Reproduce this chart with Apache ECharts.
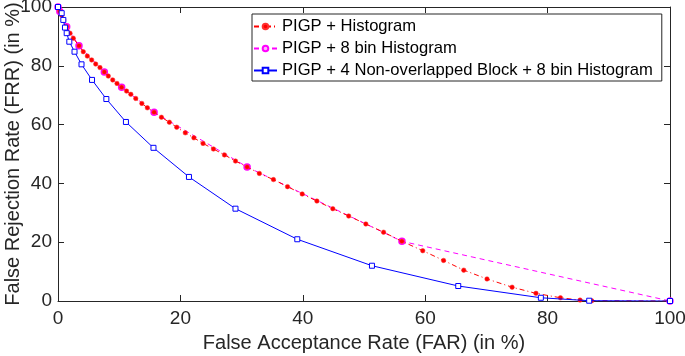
<!DOCTYPE html>
<html>
<head>
<meta charset="utf-8">
<script src="https://cdn.jsdelivr.net/npm/echarts@6/dist/echarts.min.js"></script>
<style>
    html, body { margin: 0; padding: 0; background: #fff; }
    #chart { width: 685px; height: 356px; }
</style>
</head>
<body>
<div id="chart"></div>
<script>
    // PIGP + Histogram
    var histFar = [0, 0.05, 0.3, 0.6, 0.93, 1.42, 1.96, 2.5, 3.43, 4.13, 4.79, 5.5, 6.16, 6.86, 7.57, 8.22, 8.94, 9.64, 10.4, 11.2, 11.9, 12.7, 13.7, 14.6, 15.7, 16.9, 18.2, 19.4, 20.8, 22.2, 23.7, 25.4, 27.2, 29.0, 30.9, 32.9, 35.2, 37.5, 39.9, 42.3, 44.9, 47.5, 50.3, 53.2, 56.2, 59.6, 63.0, 66.3, 70.1, 74.2, 78.1, 82.1, 85.3, 87.2, 100];
    var histFrr = [100, 99.6, 98.5, 97.2, 95.6, 93.3, 91.1, 89.4, 86.8, 84.8, 83.3, 82.0, 80.6, 79.4, 77.9, 76.5, 75.2, 74.0, 72.7, 71.4, 70.3, 68.9, 67.2, 65.7, 64.2, 62.5, 60.8, 59.1, 57.2, 55.5, 53.6, 51.7, 49.7, 47.6, 45.6, 43.4, 41.3, 38.9, 36.4, 34.0, 31.4, 28.9, 26.2, 23.4, 20.3, 17.1, 13.8, 10.5, 7.5, 4.7, 2.6, 1.1, 0.3, 0.1, 0];

    // PIGP + 8 bin Histogram
    var bin8Far = [0, 0.3, 1.42, 3.43, 7.57, 10.4, 15.7, 30.9, 56.2, 100];
    var bin8Frr = [100, 98.5, 93.3, 86.8, 77.9, 72.7, 64.2, 45.6, 20.3, 0];

    // PIGP + 4 Non-overlapped Block + 8 bin Histogram
    var blockFar = [0, 0.6, 0.87, 1.14, 1.42, 1.85, 2.7, 3.84, 5.56, 7.9, 11.1, 15.6, 21.4, 29.0, 39.1, 51.3, 65.4, 78.9, 86.8, 100];
    var blockFrr = [100, 97.9, 95.6, 93.0, 91.1, 88.2, 84.8, 80.5, 75.2, 68.7, 60.9, 52.1, 42.2, 31.4, 21.0, 12.0, 5.1, 1.1, 0.1, 0];

    var xTicks = [0, 20, 40, 60, 80, 100];
    var yTicks = [0, 20, 40, 60, 80, 100];

    function pairs (xs, ys) {
        return xs.map(function (x, i) { return [x, ys[i]]; });
    }

    var axisColor = '#262626';
    var font = '"Liberation Sans", Arial, sans-serif';

    var option = {
        animation: false,
        backgroundColor: '#fff',
        textStyle: { fontFamily: font },
        grid: { left: 58, right: 15, top: 7, bottom: 55, containLabel: false, outerBoundsMode: 'none' },
        legend: {
            orient: 'vertical',
            left: 252,
            top: 14,
            padding: [4, 9, 2, 1],
            itemGap: 5,
            itemWidth: 23,
            itemHeight: 7,
            backgroundColor: '#fff',
            borderColor: axisColor,
            borderWidth: 1,
            borderRadius: 0,
            textStyle: { fontSize: 16.6, color: '#000', fontFamily: font, lineHeight: 17 },
            data: ['PIGP + Histogram', 'PIGP + 8 bin Histogram', 'PIGP + 4 Non-overlapped Block + 8 bin Histogram']
        },
        xAxis: [
            {
                type: 'value',
                min: 0,
                max: 100,
                interval: 20,
                name: 'False Acceptance Rate (FAR) (in %)',
                nameLocation: 'middle',
                nameGap: 32,
                nameMoveOverlap: false,
                nameTextStyle: { fontSize: 20, color: axisColor, fontFamily: font },
                axisLine: { lineStyle: { color: axisColor, width: 1 } },
                axisTick: { inside: true, length: 6, lineStyle: { color: axisColor } },
                axisLabel: { fontSize: 19, color: axisColor, margin: 8, fontFamily: font,
                    formatter: function (v) { return xTicks.indexOf(v) >= 0 ? String(v) : ''; } },
                splitLine: { show: false }
            },
            {
                type: 'value',
                position: 'top',
                min: 0,
                max: 100,
                interval: 20,
                axisLine: { onZero: false, lineStyle: { color: axisColor, width: 1 } },
                axisTick: { inside: true, length: 6, lineStyle: { color: axisColor } },
                axisLabel: { show: false },
                splitLine: { show: false }
            }
        ],
        yAxis: [
            {
                type: 'value',
                min: 0,
                max: 100,
                interval: 20,
                name: 'False Rejection Rate (FRR) (in %)',
                nameLocation: 'middle',
                nameGap: 35,
                nameMoveOverlap: false,
                nameTextStyle: { fontSize: 20, color: axisColor, fontFamily: font },
                axisLine: { show: true, lineStyle: { color: axisColor, width: 1 } },
                axisTick: { show: true, inside: true, length: 6, lineStyle: { color: axisColor } },
                axisLabel: { fontSize: 19, color: axisColor, margin: 6, fontFamily: font,
                    formatter: function (v) { return yTicks.indexOf(v) >= 0 ? String(v) : ''; } },
                splitLine: { show: false }
            },
            {
                type: 'value',
                position: 'right',
                min: 0,
                max: 100,
                interval: 20,
                axisLine: { show: true, onZero: false, lineStyle: { color: axisColor, width: 1 } },
                axisTick: { show: true, inside: true, length: 6, lineStyle: { color: axisColor } },
                axisLabel: { show: false },
                splitLine: { show: false }
            }
        ],
        series: [
            {
                name: 'PIGP + 8 bin Histogram',
                type: 'line',
                z: 2,
                data: pairs(bin8Far, bin8Frr),
                symbol: 'circle',
                symbolSize: 6,
                showAllSymbol: true,
                lineStyle: { color: '#ff00ff', width: 1, type: [5, 4] },
                itemStyle: { color: '#ffb0ff', borderColor: '#ff00ff', borderWidth: 1.5 }
            },
            {
                name: 'PIGP + Histogram',
                type: 'line',
                z: 3,
                data: pairs(histFar, histFrr),
                symbol: 'circle',
                symbolSize: 4.5,
                showAllSymbol: true,
                lineStyle: { color: '#ff0000', width: 1, type: [5, 3, 1, 3] },
                itemStyle: { color: '#ff0000', borderColor: '#ff3030', borderWidth: 0.5 }
            },
            {
                name: 'PIGP + 4 Non-overlapped Block + 8 bin Histogram',
                type: 'line',
                z: 4,
                data: pairs(blockFar, blockFrr),
                symbol: 'rect',
                symbolSize: 5,
                showAllSymbol: true,
                lineStyle: { color: '#0000ff', width: 1 },
                itemStyle: { color: '#ffffff', borderColor: '#0000ff', borderWidth: 1 }
            }
        ]
    };

    var myChart = echarts.init(document.getElementById('chart'));
    myChart.setOption(option);
</script>
</body>
</html>
